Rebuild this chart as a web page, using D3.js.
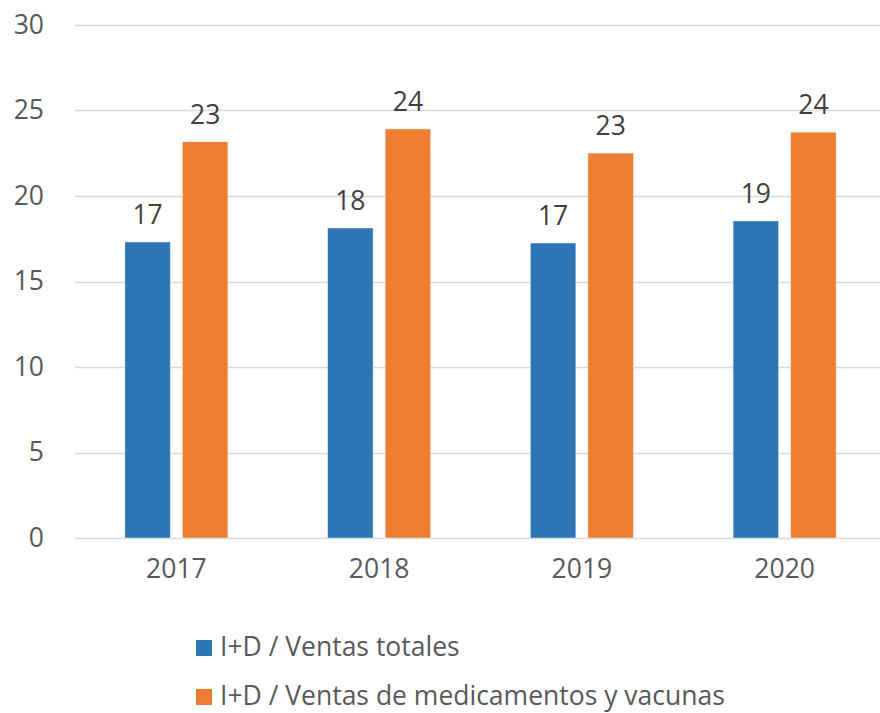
<!DOCTYPE html>
<html>
<head>
<meta charset="utf-8">
<script src="https://cdn.jsdelivr.net/npm/d3@7"></script>
<style>
  body { margin: 0; background: #fff; }
  svg { display: block; font-family: "Open Sans", sans-serif; }
</style>
</head>
<body>
<div id="chart"></div>
<script>
// chart data
const years = ["2017", "2018", "2019", "2020"];
const seriesNames = ["I+D / Ventas totales", "I+D / Ventas de medicamentos y vacunas"];
const ventasTotales = [17.31, 18.13, 17.25, 18.54];
const ventasMedicamentos = [23.17, 23.92, 22.51, 23.73];
const yTicks = [0, 5, 10, 15, 20, 25, 30];
const colors = ["#2E75B6", "#ED7D31"];

const width = 880, height = 713;
const margin = {top: 25, left: 75, right: -6, bottom: 175};
const fontFam = "'Open Sans', sans-serif";
const fs = 26.5;

const svg = d3.select("#chart").append("svg")
    .attr("width", width)
    .attr("height", height);

const x = d3.scaleBand()
    .domain(years)
    .range([margin.left, width - margin.right])
    .paddingInner(0).paddingOuter(0);

const y = d3.scaleLinear()
    .domain([0, 30])
    .range([height - margin.bottom, margin.top]);

// two bars inside each year
const inner = d3.scaleBand()
    .domain([0, 1])
    .range([x.bandwidth() / 2 - 51.5, x.bandwidth() / 2 + 51.5])
    .paddingInner(0.21);

// gridlines
svg.append("g")
    .selectAll("line")
    .data(yTicks)
    .join("line")
    .attr("x1", margin.left)
    .attr("x2", width)
    .attr("y1", d => Math.round(y(d)) + 0.5)
    .attr("y2", d => Math.round(y(d)) + 0.5)
    .attr("stroke", "#D9D9D9")
    .attr("stroke-width", 1.3);

// y axis labels
const yAxis = svg.append("g")
    .attr("transform", `translate(${margin.left - 31},0)`)
    .call(d3.axisLeft(y).tickValues(yTicks).tickSize(0).tickPadding(0));
yAxis.select(".domain").remove();
yAxis.selectAll("text")
    .attr("font-size", fs)
    .attr("font-family", fontFam)
    .attr("fill", "#595959");

// x axis labels
const xAxis = svg.append("g")
    .attr("transform", `translate(0,${y(0) + 21})`)
    .call(d3.axisBottom(x).tickSize(0).tickPadding(0));
xAxis.select(".domain").remove();
xAxis.selectAll("text")
    .attr("font-size", fs)
    .attr("font-family", fontFam)
    .attr("fill", "#595959");

const series = [ventasTotales, ventasMedicamentos];

series.forEach((vals, si) => {
    const g = svg.append("g");
    g.selectAll("rect")
        .data(vals)
        .join("rect")
        .attr("x", (d, i) => x(years[i]) + inner(si))
        .attr("width", inner.bandwidth())
        .attr("y", d => y(d))
        .attr("height", d => y(0) - y(d))
        .attr("fill", colors[si])
        .attr("stroke", "#fff")
        .attr("stroke-opacity", 0.5)
        .attr("stroke-width", 0.8);

    g.selectAll("text")
        .data(vals)
        .join("text")
        .attr("x", (d, i) => x(years[i]) + inner(si) + inner.bandwidth() / 2)
        .attr("y", d => y(d) - 18)
        .attr("text-anchor", "middle")
        .attr("font-size", fs)
        .attr("fill", "#404040")
        .text(d => Math.round(d));
});

// legend
const legend = svg.append("g");
seriesNames.forEach((name, i) => {
    const ly = 656 + i * 49;
    legend.append("rect")
        .attr("x", 196)
        .attr("y", ly - 16)
        .attr("width", 16)
        .attr("height", 16)
        .attr("fill", colors[i]);
    legend.append("text")
        .attr("x", 220)
        .attr("y", ly)
        .attr("font-size", fs)
        .attr("fill", "#595959")
        .text(name);
});
</script>
</body>
</html>
